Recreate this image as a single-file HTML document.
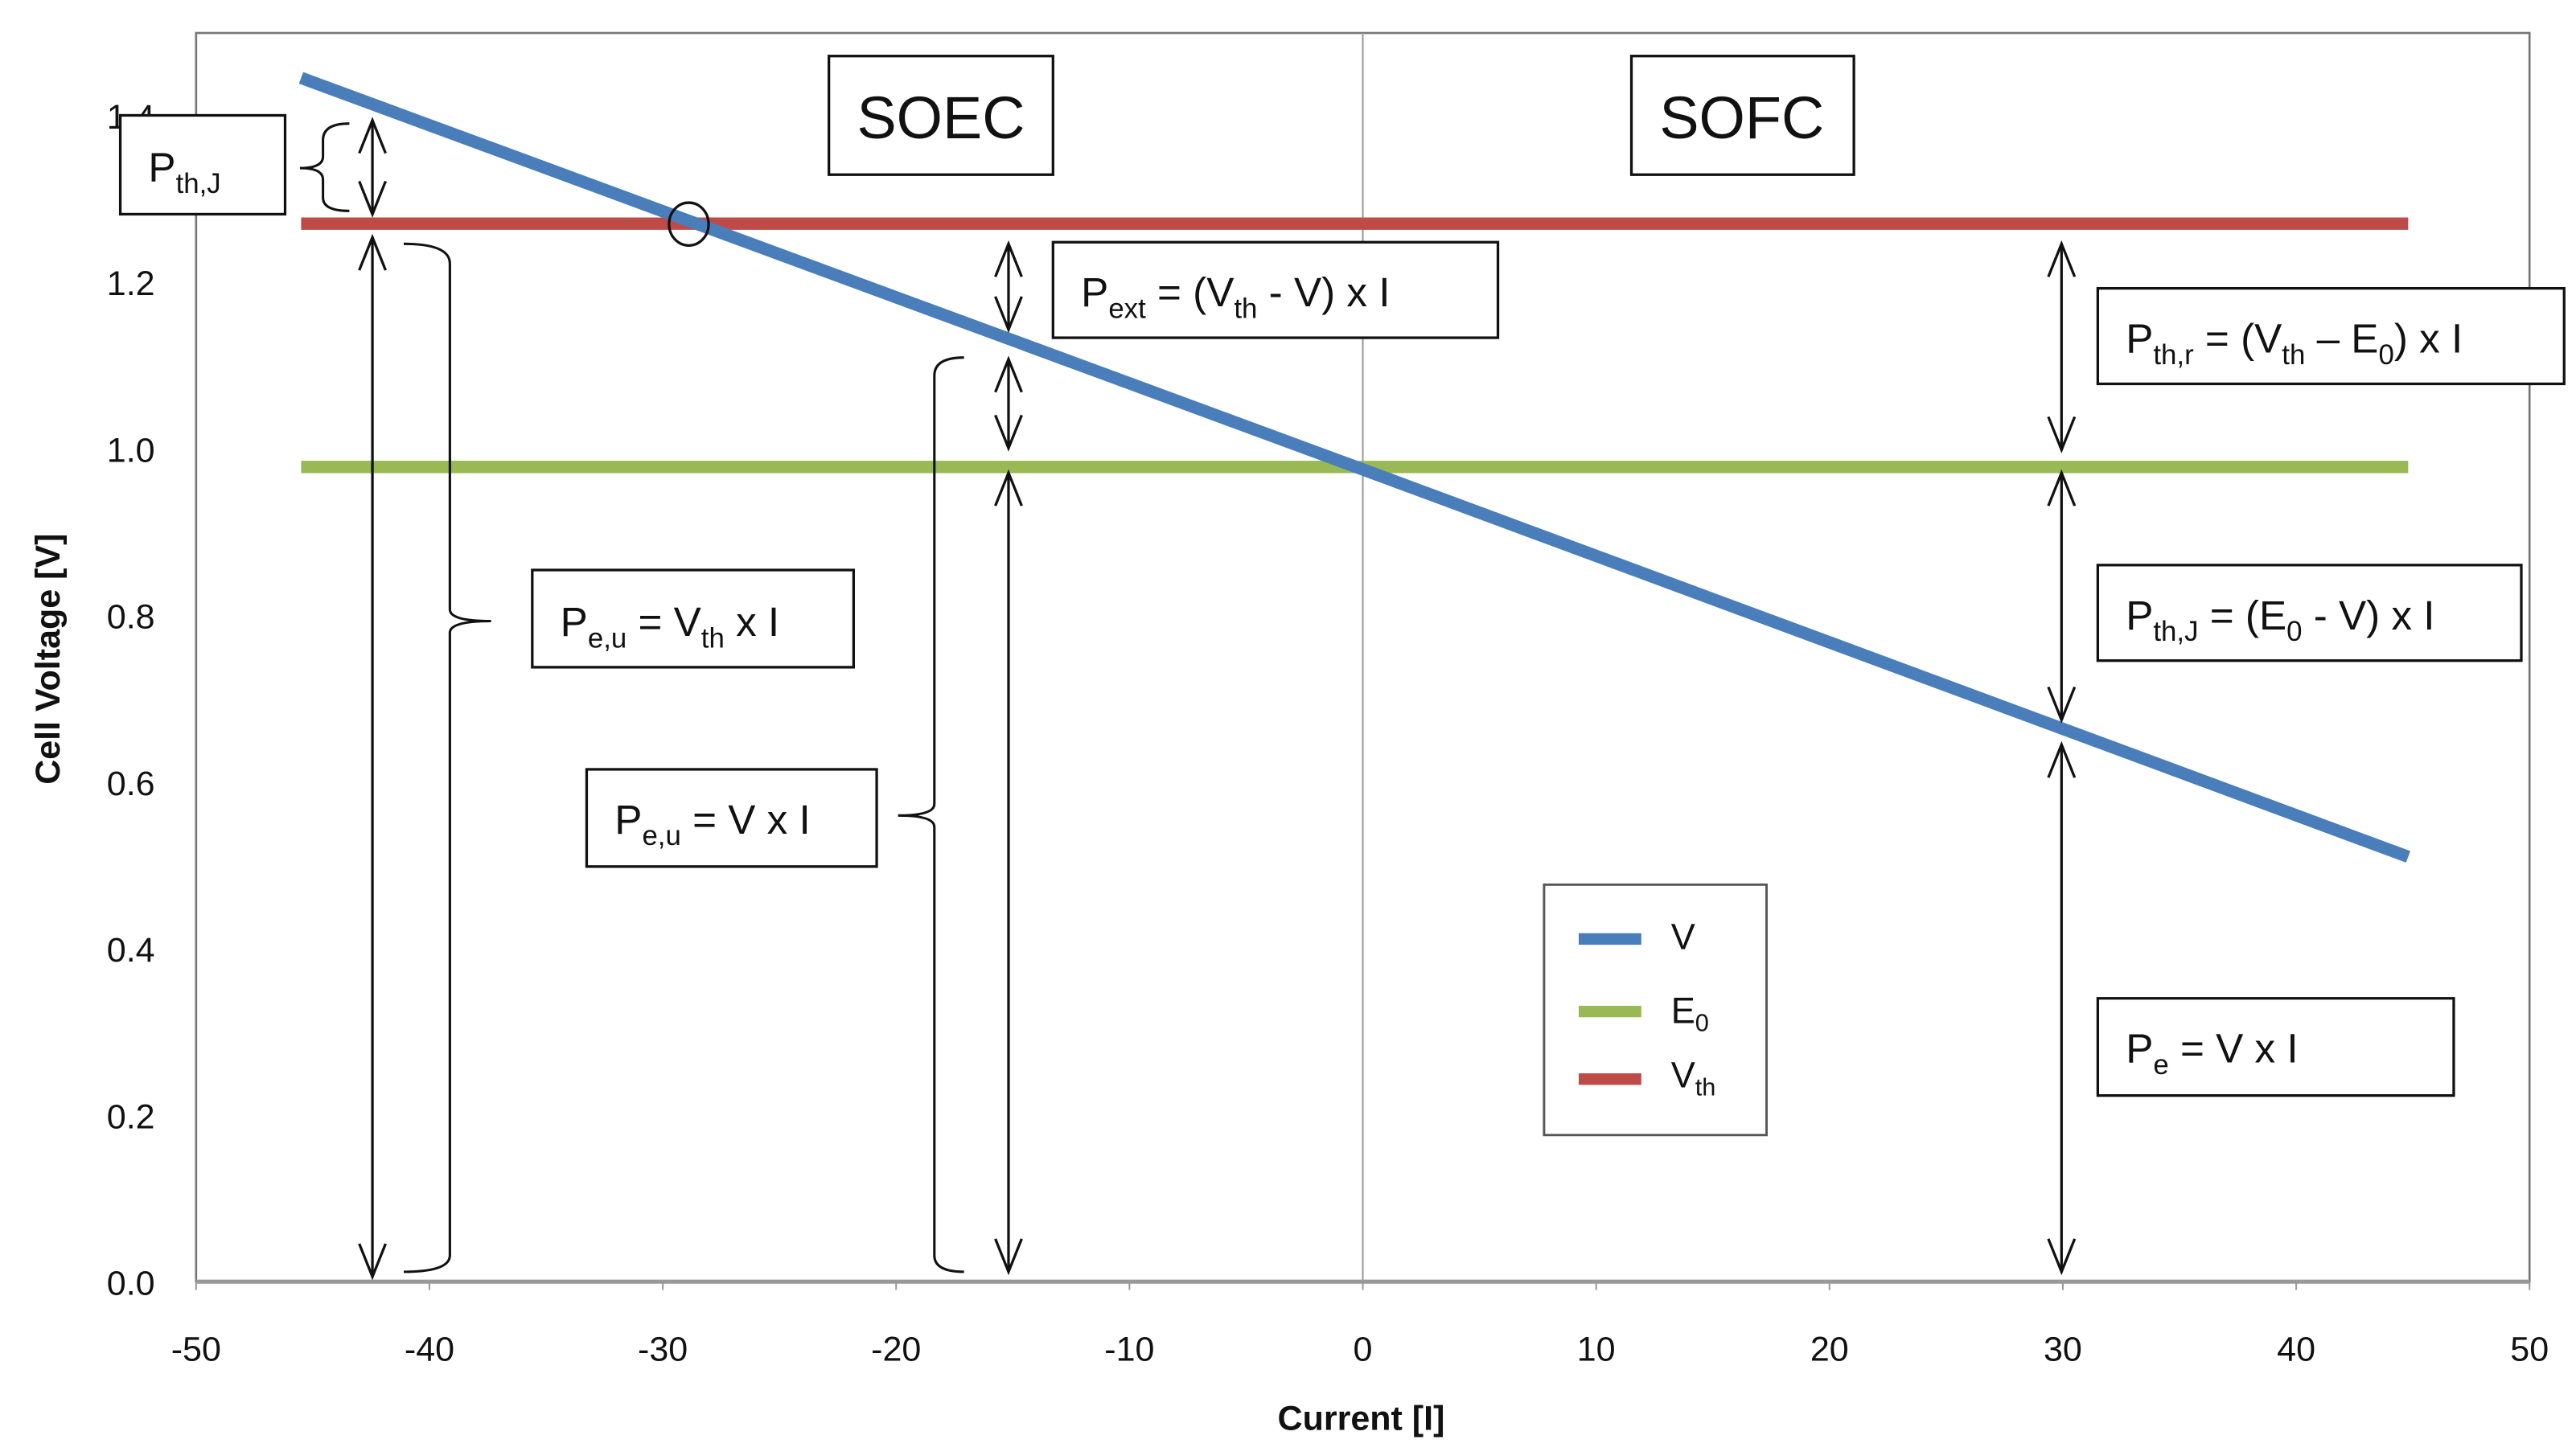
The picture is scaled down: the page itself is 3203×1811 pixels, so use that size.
<!DOCTYPE html>
<html><head><meta charset="utf-8"><style>
html,body{margin:0;padding:0;background:#fff;}
svg{display:block;}
text{font-family:"Liberation Sans",sans-serif;fill:#111;}
.box{fill:#fff;stroke:#111;stroke-width:1.6;}
.ann{fill:none;stroke:#111;stroke-width:1.5;}
.lbl{font-size:25px;}
.sub{font-size:17px;}
</style></head><body>
<svg id="chart" width="3203" height="1811" viewBox="0 0 1563.2 883.8" xmlns="http://www.w3.org/2000/svg">
<g id="axes"></g>
<g id="series"></g>
<g id="annotations">
  <rect class="box" x="503" y="34" width="136" height="72"/>
  <text x="571" y="84" font-size="36" text-anchor="middle">SOEC</text>
  <rect class="box" x="990" y="34" width="135" height="72"/>
  <text x="1057" y="84" font-size="36" text-anchor="middle">SOFC</text>

  <rect class="box" x="73" y="70" width="100" height="60"/>
  <text class="lbl" x="90" y="110">P<tspan class="sub" dy="7">th,J</tspan></text>
  <path class="ann" d="M212,75 Q196,75 196,85 L196,95 Q196,102 182,102 Q196,102 196,109 L196,120 Q196,128 212,128"/>
  <ellipse cx="418" cy="136" rx="12" ry="13" fill="none" stroke="#111" stroke-width="1.6"/>

  <path class="ann" d="M245,148 Q273,148 273,160 L273,370 Q273,377 298,377 Q273,377 273,384 L273,762 Q273,772 245,772"/>
  <rect class="box" x="323" y="346" width="195" height="59"/>
  <text class="lbl" x="340" y="386">P<tspan class="sub" dy="7">e,u</tspan><tspan dy="-7"> = V</tspan><tspan class="sub" dy="7">th</tspan><tspan dy="-7"> x I</tspan></text>

  <rect class="box" x="639" y="147" width="270" height="58"/>
  <text class="lbl" x="656" y="186">P<tspan class="sub" dy="7">ext</tspan><tspan dy="-7"> = (V</tspan><tspan class="sub" dy="7">th</tspan><tspan dy="-7"> - V) x I</tspan></text>

  <path class="ann" d="M585,217 Q567,217 567,228 L567,488 Q567,495 545,495 Q567,495 567,502 L567,762 Q567,772 585,772"/>
  <rect class="box" x="356" y="467" width="176" height="59"/>
  <text class="lbl" x="373" y="506">P<tspan class="sub" dy="7">e,u</tspan><tspan dy="-7"> = V x I</tspan></text>

  <rect class="box" x="1273" y="175" width="283" height="58"/>
  <text class="lbl" x="1290" y="214">P<tspan class="sub" dy="7">th,r</tspan><tspan dy="-7"> = (V</tspan><tspan class="sub" dy="7">th</tspan><tspan dy="-7"> – E</tspan><tspan class="sub" dy="7">0</tspan><tspan dy="-7">) x I</tspan></text>
  <rect class="box" x="1273" y="343" width="257" height="58"/>
  <text class="lbl" x="1290" y="382">P<tspan class="sub" dy="7">th,J</tspan><tspan dy="-7"> = (E</tspan><tspan class="sub" dy="7">0</tspan><tspan dy="-7"> - V) x I</tspan></text>
  <rect class="box" x="1273" y="606" width="216" height="59"/>
  <text class="lbl" x="1290" y="645">P<tspan class="sub" dy="7">e</tspan><tspan dy="-7"> = V x I</tspan></text>

  <g>
    <rect x="937" y="537" width="135" height="152" fill="#fff" stroke="#555" stroke-width="1.4"/>
    <line x1="958" y1="570" x2="996" y2="570" stroke="#4a7ebb" stroke-width="7"/>
    <text x="1014" y="576" font-size="22">V</text>
    <line x1="958" y1="614" x2="996" y2="614" stroke="#98b954" stroke-width="7"/>
    <text x="1014" y="621" font-size="22">E<tspan font-size="15" dy="5">0</tspan></text>
    <line x1="958" y1="655" x2="996" y2="655" stroke="#be4b48" stroke-width="7"/>
    <text x="1014" y="660" font-size="22">V<tspan font-size="15" dy="5">th</tspan></text>
  </g>
  <text x="826" y="868" font-size="21" font-weight="bold" text-anchor="middle">Current [I]</text>
  <text transform="translate(36,400) rotate(-90)" font-size="21" font-weight="bold" text-anchor="middle">Cell Voltage [V]</text>
</g>
<g id="arrows"></g>
</svg>
<script>
const xTicks=[-50,-40,-30,-20,-10,0,10,20,30,40,50];
const yTicks=[0.0,0.2,0.4,0.6,0.8,1.0,1.2,1.4];
const currentV=[-45.5,0,44.8];
const voltageV=[1.445,0.975,0.51];
const currentFlat=[-45.5,44.8];
const e0Values=[0.978,0.978];
const vthValues=[1.27,1.27];

const L=119,R=1535,B=778,T=20,xmin=-50,xmax=50,ymin=0,ymax=1.5;
const sx=v=>L+(v-xmin)/(xmax-xmin)*(R-L);
const sy=v=>B-(v-ymin)/(1.4)*(B-70);
const NS='http://www.w3.org/2000/svg';
function mk(tag,attrs,parent){const e=document.createElementNS(NS,tag);for(const k in attrs)e.setAttribute(k,attrs[k]);parent.appendChild(e);return e;}
const ax=document.getElementById('axes');
const fr=mk('rect',{x:L,y:T,width:R-L,height:B-T,fill:'none',stroke:'#777','stroke-width':1.3},ax);


const zl=mk('line',{x1:sx(0),x2:sx(0),y1:T,y2:B,stroke:'#999','stroke-width':1},ax);


const xa=mk('line',{x1:L,x2:R,y1:B,y2:B,stroke:'#999','stroke-width':2.5},ax);


xTicks.forEach(t=>{
  const tk=mk('line',{x1:sx(t),x2:sx(t),y1:B,y2:B+5,stroke:'#999','stroke-width':1},ax);
  
  
  const tx=mk('text',{x:sx(t),y:B+48,'font-size':21,'text-anchor':'middle'},ax);
  tx.textContent=t;
  
  
});
yTicks.forEach(t=>{
  const tx=mk('text',{x:94,y:sy(t)+8,'font-size':21,'text-anchor':'end'},ax);
  tx.textContent=t.toFixed(1);
  
  
});
const se=document.getElementById('series');
function line(xs,ys,color,name){
  const p=mk('polyline',{points:xs.map((x,i)=>sx(x)+','+sy(ys[i])).join(' '),fill:'none',stroke:color,'stroke-width':7.5},se);
  
  
}
line(currentFlat,vthValues,'#be4b48','vth-line');
line(currentFlat,e0Values,'#98b954','e0-line');
line(currentV,voltageV,'#4a7ebb','v-line');
// arrows
const ar=document.getElementById('arrows');
function arrow(x,y1,y2,name){
  const g=mk('g',{fill:'none',stroke:'#111','stroke-width':1.6},ar);
  
  
  mk('line',{x1:x,x2:x,y1:y1,y2:y2},g);
  mk('polyline',{points:`${x-8},${y1+20} ${x},${y1} ${x+8},${y1+20}`},g);
  mk('polyline',{points:`${x-8},${y2-20} ${x},${y2} ${x+8},${y2-20}`},g);
}
arrow(226,73,130,'arrow-pthj-left');
arrow(226,144,775,'arrow-peu-vth');
arrow(612,148,200,'arrow-pext');
arrow(612,218,272,'arrow-small');
arrow(612,287,772,'arrow-peu-v');
arrow(1251,148,273,'arrow-pthr');
arrow(1251,287,437,'arrow-pthj-right');
arrow(1251,452,772,'arrow-pe');
</script>
</body></html>
